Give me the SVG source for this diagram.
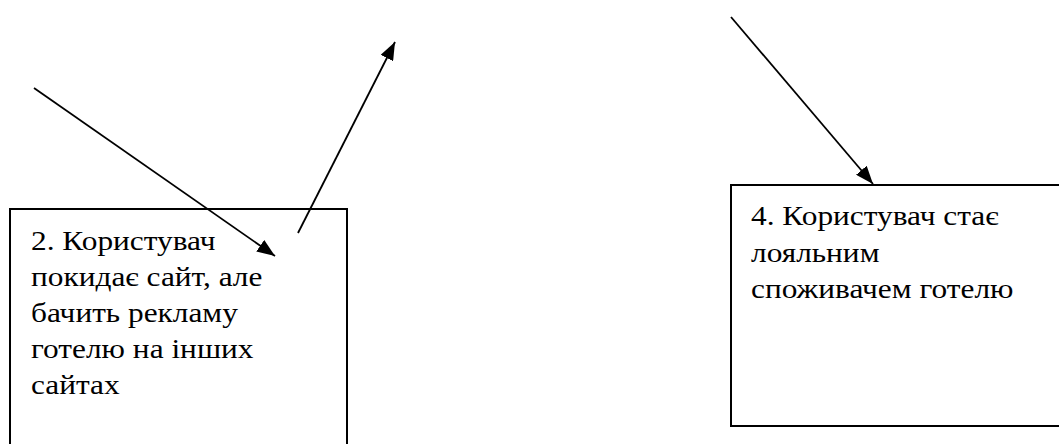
<svg xmlns="http://www.w3.org/2000/svg" width="1059" height="444" viewBox="0 0 1059 444">
<style>
.box{fill:#fff;stroke:#000;stroke-width:2}
.lbl{fill:#000}
.conn{stroke:#000;stroke-width:1.8;fill:none;marker-end:url(#ah)}
</style>
<defs>
<marker id="ah" markerUnits="userSpaceOnUse" markerWidth="19" markerHeight="14" refX="18" refY="7" orient="auto">
<path d="M0,0 L18,7 L0,14 z" fill="#000"/>
</marker>
</defs>
<rect width="1059" height="444" fill="#fff"/>
<g id="node2">
<rect class="box" x="10" y="209" width="337" height="250"/>
<g transform="translate(31 0) scale(1.12 1)" font-family="Liberation Serif, Times New Roman, serif" font-size="28" class="lbl">
<text x="0" y="250">2. Користувач</text>
<text x="0" y="286">покидає сайт, але</text>
<text x="0" y="322">бачить рекламу</text>
<text x="0" y="358">готелю на інших</text>
<text x="0" y="394">сайтах</text>
</g>
</g>
<g id="node4">
<rect class="box" x="731" y="185" width="340" height="241"/>
<g transform="translate(751 0) scale(1.12 1)" font-family="Liberation Serif, Times New Roman, serif" font-size="28" class="lbl">
<text x="0" y="225">4. Користувач стає</text>
<text x="0" y="262">лояльним</text>
<text x="0" y="298">споживачем готелю</text>
</g>
</g>
<g id="connectors">
<line class="conn" x1="34" y1="88" x2="275" y2="256"/>
<line class="conn" x1="298" y1="233" x2="395" y2="42"/>
<line class="conn" x1="731" y1="17" x2="873" y2="184"/>
</g>
</svg>
